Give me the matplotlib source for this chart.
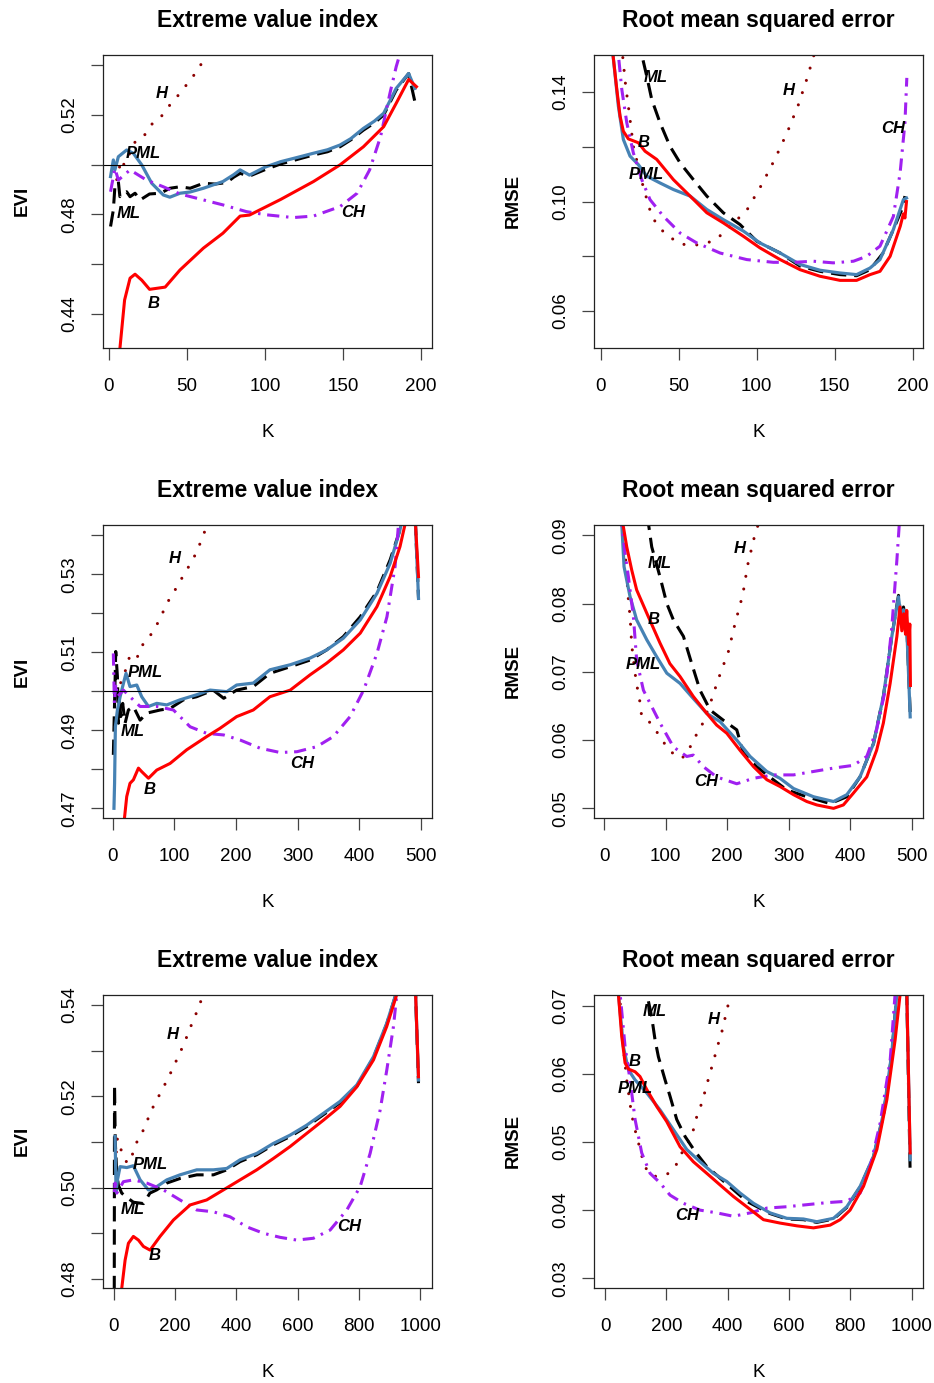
import numpy as np
import matplotlib.pyplot as plt

plt.rcParams['font.family'] = ['Liberation Sans', 'DejaVu Sans']

# ---- panel 1 : EVI, n = 200 ----
k1_ml = [1, 2.8, 3.8, 6, 7, 9, 11.3, 13.5, 16.7, 20, 26, 33, 39, 45.5, 52, 60.5, 68, 75.4, 80, 84, 90,
         100, 110, 120, 131, 140, 148, 155, 163, 170, 176, 184, 192, 196]
y1_ml = [0.4751, 0.4818, 0.4912, 0.4932, 0.4871, 0.4885, 0.4891, 0.4871, 0.4885, 0.4858, 0.4882, 0.4885,
         0.4905, 0.4911, 0.4905, 0.4925, 0.4922, 0.4928, 0.4950, 0.4965, 0.4954, 0.4980, 0.5003, 0.5020,
         0.5039, 0.5052, 0.5072, 0.5100, 0.5139, 0.5168, 0.5200, 0.5300, 0.5367, 0.5253]
k1_pml = [1, 2.8, 3.8, 6, 11.3, 15.6, 21, 27.4, 34.8, 39, 45.5, 52, 60.5, 73, 80, 84, 90, 100, 110, 120,
          131, 140, 148, 155, 163, 170, 176, 184, 192, 196]
y1_pml = [0.4952, 0.5019, 0.4979, 0.5032, 0.5059, 0.5046, 0.4999, 0.4925, 0.4878, 0.4869, 0.4885, 0.4890,
          0.4905, 0.4932, 0.4960, 0.4979, 0.4958, 0.4990, 0.5012, 0.5028, 0.5046, 0.5060, 0.5079, 0.5105,
          0.5146, 0.5175, 0.5207, 0.5307, 0.5367, 0.5307]
k1_b = [6, 7, 10, 13.5, 16.7, 21, 26, 36, 45.5, 60.5, 73, 84, 90, 110, 131, 148, 163, 176, 184, 192, 197]
y1_b = [0.418, 0.426, 0.4455, 0.4543, 0.4559, 0.4535, 0.4498, 0.4507, 0.4576, 0.4664, 0.4724, 0.4793,
        0.4797, 0.4860, 0.4932, 0.4999, 0.5072, 0.5153, 0.5247, 0.5343, 0.5314]
k1_ch = [1, 3.8, 6, 13.5, 24, 34.8, 45.5, 60.5, 73, 88, 101, 118, 131, 148, 159, 167, 174, 180, 184, 188]
y1_ch = [0.4891, 0.4985, 0.4938, 0.4979, 0.4938, 0.4911, 0.4882, 0.4858, 0.4838, 0.4811, 0.4798, 0.4787,
         0.4793, 0.4831, 0.4885, 0.4979, 0.5113, 0.5287, 0.5394, 0.548]
k1_h = [5, 6.6, 7.1, 9.8, 16.7, 22, 26.9, 33.5, 39.1, 45.3, 50.6, 56.2, 61.1, 66]
y1_h = [0.494, 0.4976, 0.5019, 0.4999, 0.5091, 0.5111, 0.516, 0.5194, 0.5241, 0.5286, 0.5329, 0.5375,
        0.5426, 0.548]

# ---- panel 2 : RMSE, n = 200 ----
k2_ml = [25, 26.3, 29.5, 32.7, 38, 44.4, 50.9, 59.4, 68, 78.6, 89.3, 100, 115, 127.8, 140.6, 153.4, 164,
         172.6, 181, 187.6, 193, 195]
y2_ml = [0.16, 0.1537, 0.1458, 0.1373, 0.1288, 0.1202, 0.1141, 0.108, 0.1020, 0.0959, 0.0916, 0.0855,
         0.0812, 0.0764, 0.0745, 0.0733, 0.0729, 0.0751, 0.0812, 0.0898, 0.0971, 0.102]
k2_pml = [7, 7.7, 11.3, 14.5, 18.8, 24.1, 29.5, 38, 46.6, 57.3, 68, 78.6, 91.5, 102, 115, 127.8, 140.6,
          153.4, 164, 172.6, 179, 187.6, 194, 196]
y2_pml = [0.162, 0.1544, 0.1349, 0.1227, 0.1166, 0.1135, 0.1093, 0.1068, 0.1044, 0.102, 0.0971, 0.0934,
          0.0892, 0.0849, 0.0812, 0.077, 0.0749, 0.0739, 0.0733, 0.0757, 0.0788, 0.0898, 0.1007, 0.1013]
k2_b = [7, 7.7, 10.3, 12.4, 14.5, 17.7, 24.1, 28.4, 35.9, 46.6, 57.3, 68, 78.6, 91.5, 102, 115, 127.8,
        140.6, 153.4, 164, 172.6, 179, 185.5, 192, 194, 195, 196]
y2_b = [0.162, 0.1544, 0.141, 0.1312, 0.1257, 0.1229, 0.1215, 0.1184, 0.1154, 0.108, 0.1020, 0.0959,
        0.0922, 0.0873, 0.0831, 0.0788, 0.0751, 0.0727, 0.0712, 0.0712, 0.0733, 0.0745, 0.08, 0.091,
        0.0955, 0.094, 0.1000]
k2_ch = [10, 11.3, 13.5, 16.7, 20.9, 26.3, 31.6, 40.2, 50.9, 61.5, 76.5, 93.6, 110.6, 123.5, 136.3, 149,
         162, 170.5, 179, 187.6, 191.9, 195, 196.2]
y2_ch = [0.162, 0.1537, 0.141, 0.1288, 0.1178, 0.108, 0.1007, 0.0946, 0.0885, 0.0849, 0.0812, 0.0788,
         0.0778, 0.0778, 0.0782, 0.0776, 0.0782, 0.08, 0.0837, 0.0946, 0.1105, 0.1288, 0.1452]
k2_h = [13, 14.1, 16, 18.4, 20.9, 27.4, 30.1, 32.7, 38, 44.4, 50.9, 59, 66.2, 73.9, 80.8, 93.6, 103.2,
        111.8, 119.7, 126.7, 132.7, 135.3, 138]
y2_h = [0.162, 0.1529, 0.1422, 0.1318, 0.1202, 0.105, 0.0998, 0.0946, 0.0901, 0.0870, 0.0845, 0.0840,
        0.0845, 0.0861, 0.0898, 0.0968, 0.1062, 0.1157, 0.1255, 0.1354, 0.1458, 0.1510, 0.156]

# ---- panel 3 : EVI, n = 500 ----
k3_ml = [1, 2.7, 4.9, 7.6, 9.2, 10.8, 13, 16.2, 20, 25.4, 33.5, 44.4, 55.2, 77, 93, 114.7, 136, 163, 180,
         201, 228, 255, 288, 320, 347, 374, 401.5, 428.6, 450, 466, 475, 484, 491, 496]
y3_ml = [0.4837, 0.4952, 0.5102, 0.5038, 0.4918, 0.4986, 0.4935, 0.4969, 0.4918, 0.4952, 0.4961, 0.4926,
         0.4944, 0.4952, 0.4956, 0.4978, 0.4986, 0.5003, 0.4982, 0.5003, 0.5012, 0.5046, 0.5063, 0.508,
         0.5106, 0.514, 0.5191, 0.5256, 0.5337, 0.5414, 0.548, 0.549, 0.5431, 0.5238]
k3_pml = [2, 3, 4.3, 7.6, 12, 17.3, 21.6, 28, 39, 47, 58, 71.4, 87.7, 109, 136, 158, 185, 201, 228, 255,
          288, 320, 347, 374, 401.5, 428.6, 450, 466, 475, 484, 491, 496]
y3_pml = [0.470, 0.4764, 0.4909, 0.4952, 0.4986, 0.502, 0.5046, 0.5012, 0.5016, 0.4986, 0.4961, 0.4969,
          0.4965, 0.4978, 0.4991, 0.5003, 0.4999, 0.5016, 0.5021, 0.5055, 0.5068, 0.5085, 0.5106, 0.5136,
          0.5183, 0.5251, 0.5328, 0.5414, 0.548, 0.549, 0.5431, 0.5238]
k3_b = [17, 19, 22.7, 28, 33.5, 41.7, 47, 58, 71.4, 93, 120, 152.6, 174, 201, 228, 255, 288, 320, 347, 374,
        401.5, 428.6, 450, 466, 474.6, 482, 491, 496]
y3_b = [0.462, 0.4674, 0.473, 0.4764, 0.4773, 0.4803, 0.4794, 0.4777, 0.4798, 0.4815, 0.4850, 0.4884,
        0.4905, 0.4935, 0.4952, 0.4986, 0.5003, 0.5042, 0.5072, 0.5106, 0.5149, 0.5217, 0.5294, 0.5371,
        0.5431, 0.549, 0.5431, 0.5294]
k3_ch = [1, 2.7, 4.9, 7.6, 17.3, 28, 44.4, 71.4, 98.5, 125.5, 152.6, 180, 206.7, 239, 271.6, 298.7, 331,
         358, 385, 407, 428.6, 444.8, 458, 463.7, 467]
y3_ch = [0.5097, 0.4969, 0.502, 0.4986, 0.5003, 0.4986, 0.4961, 0.4961, 0.4952, 0.4909, 0.4892, 0.4888,
         0.4875, 0.4854, 0.4843, 0.4845, 0.4858, 0.4884, 0.4935, 0.5003, 0.5097, 0.5191, 0.532, 0.5431,
         0.549]
k3_h = [8, 12, 20, 27, 36, 41.7, 48, 60.6, 71.4, 90.4, 102, 113.6, 124.5, 135.3, 144.5, 152.6, 160]
y3_h = [0.499, 0.5018, 0.5050, 0.5087, 0.5078, 0.5093, 0.5118, 0.5142, 0.517, 0.5232, 0.5262, 0.5294,
        0.5323, 0.5354, 0.539, 0.5424, 0.546]

# ---- panel 4 : RMSE, n = 500 ----
k4_ml = [70, 72, 77.5, 91, 102, 112.7, 129, 142.5, 156, 172.4, 194, 215.7, 226.5, 248, 275, 297, 329.5,
         367.5, 394.6, 416, 438, 454, 467.8, 478.6, 483, 486.7, 492, 497.6]
y4_ml = [0.093, 0.0918, 0.0883, 0.0839, 0.08, 0.0776, 0.0752, 0.0712, 0.0673, 0.0644, 0.0629, 0.0615,
         0.0581, 0.0561, 0.0542, 0.0527, 0.0517, 0.0507, 0.0517, 0.0546, 0.0595, 0.0664, 0.0752, 0.0812,
         0.0778, 0.0795, 0.0768, 0.0640]
k4_pml = [27, 28.7, 32.5, 42.3, 53, 69.4, 85.6, 102, 123.6, 145, 167, 188.6, 215.7, 237.4, 264.5, 286,
          308, 340.4, 373, 394.6, 416, 438, 454, 467.8, 478.6, 483, 486.7, 492, 497.6]
y4_pml = [0.093, 0.0918, 0.0854, 0.081, 0.0776, 0.0747, 0.0722, 0.0698, 0.0683, 0.0661, 0.0639, 0.0627,
          0.06, 0.0576, 0.0554, 0.0544, 0.0529, 0.0517, 0.051, 0.052, 0.0546, 0.0595, 0.0664, 0.0752,
          0.081, 0.0775, 0.0791, 0.0766, 0.0634]
k4_b = [28, 30.4, 36.9, 45, 53, 69.4, 91, 107, 123.6, 145, 167, 183, 199.5, 221, 243, 264.5, 286, 308,
        329.5, 345.8, 373, 389, 405, 427, 443, 454, 465, 476, 481, 484, 487, 490, 492, 495, 497, 498]
y4_b = [0.093, 0.0918, 0.0883, 0.0849, 0.082, 0.0786, 0.0742, 0.0712, 0.0693, 0.0664, 0.0639, 0.0622,
        0.061, 0.0585, 0.0561, 0.0542, 0.0532, 0.052, 0.051, 0.0505, 0.05, 0.0505, 0.0522, 0.0546,
        0.0585, 0.0625, 0.0683, 0.0752, 0.0795, 0.076, 0.0785, 0.0755, 0.079, 0.074, 0.077, 0.068]
k4_ch = [27, 28.7, 34.1, 39.6, 47.7, 53, 64, 77.5, 91, 112.7, 134.4, 145, 161.5, 183, 215.7, 242.8, 275,
         308, 340.4, 373, 405.4, 427, 443, 457, 467.8, 476, 480]
y4_ch = [0.093, 0.0918, 0.0874, 0.0839, 0.0781, 0.0717, 0.0673, 0.0649, 0.0625, 0.059, 0.0576, 0.0578,
         0.0561, 0.0546, 0.0536, 0.0544, 0.0549, 0.0549, 0.0554, 0.0559, 0.0563, 0.0576, 0.0615, 0.0673,
         0.0766, 0.0864, 0.0918]
k4_h = [30, 35.2, 39.6, 42.3, 45, 50.4, 54.2, 58.5, 61.2, 75.9, 91, 106.2, 126.3, 137.1, 146.3, 156.1,
        171.3, 186, 202.2, 213, 225.5, 233.6, 244.4, 251, 258]
y4_h = [0.092, 0.0864, 0.0805, 0.0781, 0.0739, 0.0698, 0.0676, 0.0655, 0.0634, 0.0625, 0.0605, 0.0584,
        0.0573, 0.0584, 0.0603, 0.0615, 0.065, 0.069, 0.073, 0.0771, 0.0813, 0.0857, 0.0898, 0.0917, 0.094]

# ---- panel 5 : EVI, n = 1000 ----
k5_ml = [1, 2.5, 5, 10, 15.2, 26, 40, 64, 97, 118, 140, 173, 216, 270.7, 325, 368.6, 412, 466.4, 520.8,
         575, 629.5, 684, 738, 792.6, 847, 890, 917.6, 935, 955, 983, 993.7]
y5_ml = [0.440, 0.5225, 0.510, 0.503, 0.5005, 0.4988, 0.498, 0.4968, 0.4965, 0.4988, 0.4995, 0.5010,
         0.5020, 0.5028, 0.5028, 0.5039, 0.5057, 0.5072, 0.5094, 0.5112, 0.5134, 0.516, 0.5186, 0.5222,
         0.5285, 0.5358, 0.5418, 0.545, 0.549, 0.545, 0.5229]
k5_pml = [4.3, 7.6, 12, 20.7, 42.4, 64, 86, 113, 140, 173, 216, 270.7, 325, 368.6, 412, 466.4, 520.8,
          575, 629.5, 684, 738, 792.6, 847, 890, 917.6, 935, 955, 983, 993.7]
y5_pml = [0.5112, 0.4991, 0.5017, 0.5046, 0.5044, 0.5048, 0.5017, 0.4995, 0.5002, 0.5017, 0.5028, 0.5039,
          0.5039, 0.5042, 0.5061, 0.5075, 0.5097, 0.5115, 0.5137, 0.5163, 0.5189, 0.5225, 0.5287, 0.536,
          0.5419, 0.545, 0.549, 0.545, 0.5236]
k5_b = [22, 26, 37, 47.8, 64, 80.5, 96.8, 118.5, 151, 194.6, 249, 303, 357.7, 412, 466.4, 520.8, 575,
        629.5, 684, 738, 792.6, 847, 890, 917.6, 935, 955, 983, 993.7]
y5_b = [0.472, 0.4779, 0.4841, 0.4878, 0.4893, 0.4885, 0.4871, 0.4863, 0.4893, 0.4929, 0.4962, 0.4973,
        0.4995, 0.5017, 0.5039, 0.5064, 0.509, 0.5119, 0.5148, 0.5178, 0.5221, 0.528, 0.5353, 0.5412,
        0.545, 0.549, 0.545, 0.5243]
k5_ch = [2, 4.3, 9.8, 31.5, 64, 107.6, 162, 216, 270.7, 325, 379.4, 433.8, 488, 542.5, 597, 651, 705.6,
         760, 803.4, 836, 868.7, 890.4, 912, 923, 930]
y5_ch = [0.499, 0.501, 0.4988, 0.5013, 0.5017, 0.501, 0.4995, 0.4973, 0.4951, 0.4947, 0.4936, 0.4914,
         0.49, 0.4891, 0.4885, 0.4889, 0.4907, 0.4951, 0.5002, 0.5075, 0.517, 0.5258, 0.5353, 0.5423, 0.547]
k5_h = [5, 12, 30, 44.6, 61, 72.8, 89, 105.5, 120.7, 138, 158.7, 178.3, 196.8, 216.4, 234.8, 252.2,
        270.7, 287, 305]
y5_h = [0.505, 0.5108, 0.507, 0.5053, 0.5073, 0.5097, 0.5115, 0.514, 0.5167, 0.5189, 0.5216, 0.5241,
        0.5268, 0.5296, 0.5325, 0.5355, 0.5385, 0.5414, 0.545]

# ---- panel 6 : RMSE, n = 1000 ----
k6_ml = [130, 136, 152, 163, 174, 195.8, 212, 233.8, 261, 293.6, 331.7, 375, 418.7, 462, 538, 592.7, 647,
         690.6, 745, 788.5, 832, 875.5, 908, 935, 951.6, 970, 984, 995]
y6_ml = [0.074, 0.0718, 0.0684, 0.065, 0.0625, 0.0591, 0.0567, 0.0533, 0.0508, 0.0486, 0.0464, 0.0447,
         0.043, 0.0413, 0.0395, 0.0387, 0.0386, 0.0382, 0.0387, 0.0404, 0.0434, 0.0478, 0.054, 0.0628,
         0.0718, 0.075, 0.0718, 0.0454]
k6_pml = [40, 43.5, 59.8, 76, 98, 136, 179.4, 223, 266.4, 310, 353.4, 397, 440.5, 484, 538, 592.7, 647,
          690.6, 745, 788.5, 832, 875.5, 908, 935, 951.6, 970, 984, 995]
y6_pml = [0.074, 0.0718, 0.064, 0.0606, 0.0591, 0.0572, 0.0547, 0.0518, 0.0489, 0.0471, 0.0454, 0.0442,
          0.0425, 0.041, 0.0396, 0.0388, 0.0387, 0.0383, 0.0388, 0.0405, 0.0435, 0.0479, 0.0542, 0.063,
          0.0718, 0.075, 0.0718, 0.0474]
k6_b = [40, 43.5, 54.4, 65.3, 76, 98, 114, 136, 168.6, 201, 244.7, 288, 331.7, 375, 418.7, 462, 516.6,
        571, 625, 679.7, 734, 766.7, 799, 842.9, 886.4, 919, 946, 962.5, 975, 984, 995]
y6_b = [0.074, 0.0718, 0.0655, 0.0616, 0.0607, 0.0603, 0.0596, 0.0577, 0.0552, 0.053, 0.0493, 0.0471,
        0.0454, 0.0437, 0.042, 0.0405, 0.0386, 0.0381, 0.0377, 0.0374, 0.0378, 0.0386, 0.04, 0.0435,
        0.0489, 0.0562, 0.065, 0.0718, 0.075, 0.0718, 0.0484]
k6_ch = [45, 49, 65.3, 81.6, 98, 119.6, 146.8, 179.4, 212, 255.6, 310, 364.3, 418.7, 473, 527.5, 592.7,
         658, 723, 788.5, 832, 864.6, 897.2, 930, 946, 955]
y6_ch = [0.074, 0.0718, 0.064, 0.0591, 0.0533, 0.0484, 0.0454, 0.044, 0.0422, 0.041, 0.04, 0.0396,
         0.0391, 0.0396, 0.0403, 0.0405, 0.0408, 0.0411, 0.0413, 0.0425, 0.0464, 0.0528, 0.0621, 0.0718,
         0.075]
k6_h = [45, 55, 70.7, 84.8, 92.4, 103.3, 114.2, 125, 141.4, 168.6, 203.4, 228.4, 248, 272, 288.2, 299,
        315.4, 328.4, 340.4, 353.4, 366.5, 380.6, 391.5, 402.4, 412]
y6_h = [0.074, 0.066, 0.0591, 0.0546, 0.0528, 0.0508, 0.049, 0.047, 0.0454, 0.0449, 0.0453, 0.0463,
        0.0482, 0.05, 0.0518, 0.0537, 0.0557, 0.0578, 0.0598, 0.0618, 0.064, 0.0661, 0.0682, 0.0703, 0.0725]


def draw_curves(ax, ml, pml, b, ch, h):
    ax.plot(*h, color='#8B0000', lw=2.2, linestyle=(0, (0.01, 4.2)), dash_capstyle='round')
    ax.plot(*ml, color='black', lw=2.2, dashes=(5, 2.6))
    ax.plot(*pml, color='#4682B4', lw=2.3)
    ax.plot(*ch, color='#A020F0', lw=2.2, dashes=(4, 2.2, 0.8, 2.2))
    ax.plot(*b, color='red', lw=2.2)


def style_axes(ax, title, ylab, xticks, yticks, ylabeled, xlim, ylim):
    ax.set_xlim(*xlim)
    ax.set_ylim(*ylim)
    ax.set_xticks(xticks)
    ax.set_xticklabels([str(t) for t in xticks])
    ax.set_yticks(yticks)
    ax.set_yticklabels(['%.2f' % t if t in ylabeled else '' for t in yticks])
    ax.tick_params(direction='out', length=8.5, width=0.9, color='#444444', labelsize=13.5, pad=13)
    ax.tick_params(axis='y', labelrotation=90, pad=9)
    for lab in ax.get_yticklabels():
        lab.set_va('center')
    for s in ax.spines.values():
        s.set_linewidth(0.9)
        s.set_color('#222222')
    ax.set_title(title, fontsize=16.5, fontweight='bold', pad=20)
    ax.set_xlabel('K', fontsize=13.5, labelpad=21)
    ax.set_ylabel(ylab, fontsize=13.5, fontweight='bold', labelpad=22)


def put_labels(ax, labels):
    for txt, (x, y) in labels.items():
        ax.text(x, y, txt, fontsize=12, fontweight='bold', fontstyle='italic', ha='center', va='center')


fig = plt.figure(figsize=(9.34, 13.83), dpi=100)
lefts = [0.110, 0.636]
bottoms = [0.7484, 0.4085, 0.0687]
w, hgt = 0.3526, 0.2121

axs = [[fig.add_axes([lefts[c], bottoms[r], w, hgt]) for c in range(2)] for r in range(3)]

# row 1
ax = axs[0][0]
draw_curves(ax, (k1_ml, y1_ml), (k1_pml, y1_pml), (k1_b, y1_b), (k1_ch, y1_ch), (k1_h, y1_h))
ax.axhline(0.5, color='black', lw=0.8)
style_axes(ax, 'Extreme value index', 'EVI', [0, 50, 100, 150, 200],
           [0.44, 0.46, 0.48, 0.50, 0.52, 0.54], [0.44, 0.48, 0.52], (-4, 207), (0.4262, 0.5443))
put_labels(ax, {'H': (33.8, 0.5287), 'PML': (22, 0.5046), 'ML': (12.4, 0.4802),
                'CH': (156.6, 0.4808), 'B': (28.8, 0.4442)})

ax = axs[0][1]
draw_curves(ax, (k2_ml, y2_ml), (k2_pml, y2_pml), (k2_b, y2_b), (k2_ch, y2_ch), (k2_h, y2_h))
style_axes(ax, 'Root mean squared error', 'RMSE', [0, 50, 100, 150, 200],
           [0.06, 0.08, 0.10, 0.12, 0.14], [0.06, 0.10, 0.14], (-4.3, 206.8), (0.0465, 0.1537))
put_labels(ax, {'ML': (35.4, 0.1453), 'H': (120.3, 0.1407), 'CH': (187.6, 0.1266),
                'B': (27.4, 0.1217), 'PML': (29.5, 0.1099)})

# row 2
ax = axs[1][0]
draw_curves(ax, (k3_ml, y3_ml), (k3_pml, y3_pml), (k3_b, y3_b), (k3_ch, y3_ch), (k3_h, y3_h))
ax.axhline(0.5, color='black', lw=0.8)
style_axes(ax, 'Extreme value index', 'EVI', [0, 100, 200, 300, 400, 500],
           [0.47, 0.48, 0.49, 0.50, 0.51, 0.52, 0.53, 0.54], [0.47, 0.49, 0.51, 0.53],
           (-16.2, 518), (0.4675, 0.5427))
put_labels(ax, {'H': (101, 0.5341), 'PML': (52.5, 0.5048), 'ML': (32.5, 0.4897),
                'CH': (308, 0.4814), 'B': (60.6, 0.4747)})

ax = axs[1][1]
draw_curves(ax, (k4_ml, y4_ml), (k4_pml, y4_pml), (k4_b, y4_b), (k4_ch, y4_ch), (k4_h, y4_h))
style_axes(ax, 'Root mean squared error', 'RMSE', [0, 100, 200, 300, 400, 500],
           [0.05, 0.06, 0.07, 0.08, 0.09], [0.05, 0.06, 0.07, 0.08, 0.09],
           (-16.3, 519), (0.04858, 0.09155))
put_labels(ax, {'H': (221, 0.0881), 'ML': (91, 0.0859), 'B': (80.2, 0.0776),
                'PML': (64, 0.071), 'CH': (166, 0.054)})

# row 3
ax = axs[2][0]
draw_curves(ax, (k5_ml, y5_ml), (k5_pml, y5_pml), (k5_b, y5_b), (k5_ch, y5_ch), (k5_h, y5_h))
ax.axhline(0.5, color='black', lw=0.8)
style_axes(ax, 'Extreme value index', 'EVI', [0, 200, 400, 600, 800, 1000],
           [0.48, 0.49, 0.50, 0.51, 0.52, 0.53, 0.54], [0.48, 0.50, 0.52, 0.54],
           (-35.9, 1038), (0.478, 0.5423))
put_labels(ax, {'H': (192.4, 0.5335), 'PML': (118.5, 0.505), 'ML': (62, 0.4951),
                'CH': (768.6, 0.4914), 'B': (134.8, 0.4852)})

ax = axs[2][1]
draw_curves(ax, (k6_ml, y6_ml), (k6_pml, y6_pml), (k6_b, y6_b), (k6_ch, y6_ch), (k6_h, y6_h))
style_axes(ax, 'Root mean squared error', 'RMSE', [0, 200, 400, 600, 800, 1000],
           [0.03, 0.04, 0.05, 0.06, 0.07], [0.03, 0.04, 0.05, 0.06, 0.07],
           (-35.9, 1038), (0.02858, 0.07161))
put_labels(ax, {'ML': (163, 0.0691), 'H': (355.6, 0.0679), 'B': (98, 0.0618),
                'PML': (98, 0.0579), 'CH': (266.4, 0.0392)})

fig.savefig('out.png', dpi=100)
